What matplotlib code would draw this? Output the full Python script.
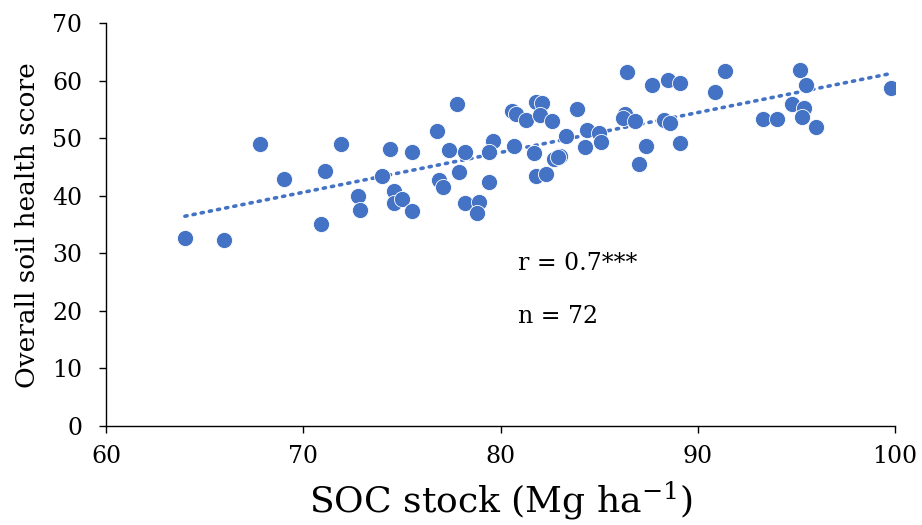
import numpy as np
import matplotlib
matplotlib.use("Agg")
import matplotlib.pyplot as plt

soc_stock = [64.0, 66.0, 67.8, 69.0, 70.9, 71.1, 71.9, 72.8, 72.9, 74.0,
             74.4, 74.6, 74.6, 75.0, 75.5, 75.5, 76.8, 76.9, 77.1, 77.4,
             77.8, 77.9, 78.2, 78.2, 78.9, 78.8, 79.4, 79.6, 79.4, 80.7,
             80.6, 80.8, 81.3, 81.8, 82.1, 82.0, 82.6, 81.7, 81.8, 82.3,
             82.7, 83.0, 83.3, 83.9, 84.3, 84.4, 85.0, 85.1, 86.4, 87.7,
             88.5, 89.1, 86.3, 86.2, 86.8, 87.4, 87.0, 88.3, 88.6, 89.1,
             90.9, 91.4, 93.3, 94.0, 95.2, 95.5, 94.8, 95.4, 95.3, 96.0,
             99.8, 82.9]
soil_health = [32.7, 32.3, 49.0, 42.9, 35.1, 44.3, 49.1, 39.9, 37.6, 43.5,
               48.2, 40.9, 38.8, 39.4, 37.4, 47.6, 51.2, 42.8, 41.6, 47.9,
               55.9, 44.1, 47.7, 38.8, 38.9, 37.0, 42.5, 49.6, 47.6, 48.7,
               54.8, 54.2, 53.2, 56.4, 56.1, 54.1, 53.0, 47.4, 43.4, 43.8,
               46.4, 47.0, 50.4, 55.1, 48.5, 51.4, 50.9, 49.4, 61.6, 59.3,
               60.1, 59.6, 54.2, 53.5, 53.1, 48.7, 45.6, 53.2, 52.6, 49.2,
               58.0, 61.7, 53.4, 53.4, 61.9, 59.2, 55.9, 55.2, 53.8, 51.9,
               58.8, 46.7]
x_ticks = [60, 70, 80, 90, 100]
y_ticks = [0, 10, 20, 30, 40, 50, 60, 70]
stats_text = ["r = 0.7***", "n = 72"]

plt.rcParams['font.family'] = ['DejaVu Serif']
plt.rcParams['mathtext.fontset'] = 'dejavuserif'

color = '#4472C4'
fig = plt.figure(figsize=(9.22, 5.25), dpi=100)
ax = fig.add_axes([0.115, 0.1886, 0.8557, 0.767])

x = np.array(soc_stock)
y = np.array(soil_health)
ax.scatter(x, y, s=135, color=color, edgecolors='white', linewidths=0.6, zorder=3)

coef = np.polyfit(x, y, 1)
xs = np.array([x.min(), x.max()])
ax.plot(xs, np.polyval(coef, xs), linestyle=(0, (0.6, 1.7)), color=color,
        linewidth=2.6, dash_capstyle='round', zorder=2)

ax.set_xlim(60, 100)
ax.set_ylim(0, 70)
ax.set_xticks(x_ticks)
ax.set_yticks(y_ticks)
ax.spines['top'].set_visible(False)
ax.spines['right'].set_visible(False)
for s in ['left', 'bottom']:
    ax.spines[s].set_linewidth(1.0)
ax.tick_params(axis='both', direction='out', length=5, width=1.0, labelsize=17)
ax.tick_params(axis='y', pad=12)
ax.tick_params(axis='x', pad=9)

ax.set_ylabel('Overall soil health score', fontsize=19, labelpad=9)
fig.text(0.543, 0.006, r'SOC stock (Mg ha$^{-1}$)', fontsize=26, ha='center', va='bottom')

ax.text(80.9, 28.2, stats_text[0], fontsize=17, va='center', ha='left')
ax.text(80.9, 19.0, stats_text[1], fontsize=17, va='center', ha='left')

fig.savefig('out.png', dpi=100)
